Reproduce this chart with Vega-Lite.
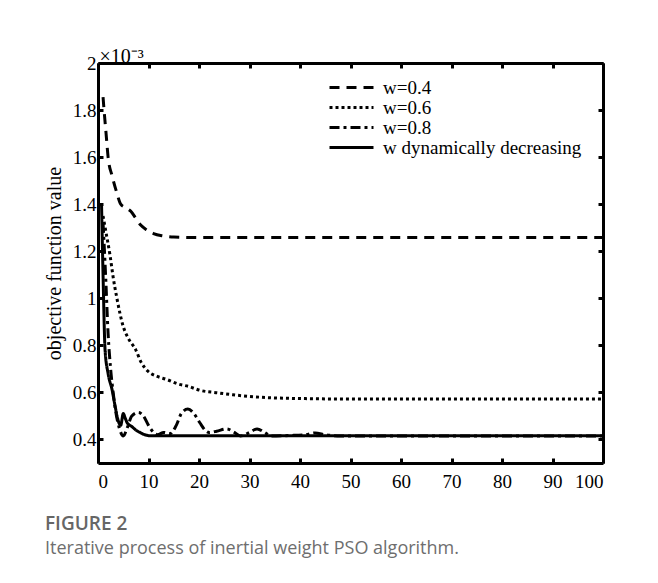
{
  "$schema": "https://vega.github.io/schema/vega-lite/v6.json",
  "width": 505,
  "height": 400,
  "autosize": {"type": "none"},
  "padding": {"left": 98, "top": 63, "right": 55, "bottom": 120},
  "background": "white",
  "title": {
    "text": "FIGURE 2",
    "subtitle": "Iterative process of inertial weight PSO algorithm.",
    "orient": "bottom",
    "anchor": "start",
    "frame": "group",
    "dx": -53,
    "offset": 24,
    "font": "Open Sans",
    "fontSize": 19,
    "fontWeight": 600,
    "color": "#666666",
    "subtitleFont": "Open Sans",
    "subtitleFontSize": 18,
    "subtitleColor": "#6e6e6e",
    "subtitlePadding": 6
  },
  "config": {
    "view": {"stroke": null},
    "axis": {
      "domainColor": "black",
      "domainWidth": 3,
      "tickColor": "black",
      "tickWidth": 3,
      "tickSize": -5,
      "grid": false,
      "labelFont": "Liberation Serif",
      "labelFontSize": 19,
      "labelColor": "black",
      "titleFont": "Liberation Serif",
      "titleFontSize": 20,
      "titleFontWeight": "normal",
      "titleColor": "black"
    }
  },
  "data": {
    "values": [
      {"series": "w=0.4", "iter": 1, "value": 1.855},
      {"series": "w=0.4", "iter": 1.2, "value": 1.8},
      {"series": "w=0.4", "iter": 1.6, "value": 1.7},
      {"series": "w=0.4", "iter": 2, "value": 1.6},
      {"series": "w=0.4", "iter": 2.8, "value": 1.52},
      {"series": "w=0.4", "iter": 3.7, "value": 1.45},
      {"series": "w=0.4", "iter": 4.5, "value": 1.4},
      {"series": "w=0.4", "iter": 5.5, "value": 1.385},
      {"series": "w=0.4", "iter": 6.5, "value": 1.37},
      {"series": "w=0.4", "iter": 7.5, "value": 1.34},
      {"series": "w=0.4", "iter": 8.5, "value": 1.31},
      {"series": "w=0.4", "iter": 9.7, "value": 1.29},
      {"series": "w=0.4", "iter": 11, "value": 1.275},
      {"series": "w=0.4", "iter": 12.9, "value": 1.265},
      {"series": "w=0.4", "iter": 15, "value": 1.26},
      {"series": "w=0.4", "iter": 20, "value": 1.258},
      {"series": "w=0.4", "iter": 100, "value": 1.258},

      {"series": "w=0.6", "iter": 1, "value": 1.35},
      {"series": "w=0.6", "iter": 1.5, "value": 1.29},
      {"series": "w=0.6", "iter": 2.4, "value": 1.18},
      {"series": "w=0.6", "iter": 3, "value": 1.09},
      {"series": "w=0.6", "iter": 3.7, "value": 1.005},
      {"series": "w=0.6", "iter": 5, "value": 0.88},
      {"series": "w=0.6", "iter": 6, "value": 0.83},
      {"series": "w=0.6", "iter": 7.5, "value": 0.78},
      {"series": "w=0.6", "iter": 8.5, "value": 0.73},
      {"series": "w=0.6", "iter": 9.9, "value": 0.69},
      {"series": "w=0.6", "iter": 11.5, "value": 0.67},
      {"series": "w=0.6", "iter": 13.6, "value": 0.655},
      {"series": "w=0.6", "iter": 16, "value": 0.635},
      {"series": "w=0.6", "iter": 18, "value": 0.625},
      {"series": "w=0.6", "iter": 20, "value": 0.61},
      {"series": "w=0.6", "iter": 23.8, "value": 0.598},
      {"series": "w=0.6", "iter": 26.7, "value": 0.59},
      {"series": "w=0.6", "iter": 30, "value": 0.583},
      {"series": "w=0.6", "iter": 33.4, "value": 0.578},
      {"series": "w=0.6", "iter": 40, "value": 0.574},
      {"series": "w=0.6", "iter": 50, "value": 0.572},
      {"series": "w=0.6", "iter": 100, "value": 0.572},

      {"series": "w=0.8", "iter": 1, "value": 1.32},
      {"series": "w=0.8", "iter": 1.5, "value": 1.1},
      {"series": "w=0.8", "iter": 2, "value": 0.85},
      {"series": "w=0.8", "iter": 2.5, "value": 0.7},
      {"series": "w=0.8", "iter": 3, "value": 0.6},
      {"series": "w=0.8", "iter": 3.5, "value": 0.52},
      {"series": "w=0.8", "iter": 4.2, "value": 0.45},
      {"series": "w=0.8", "iter": 5, "value": 0.415},
      {"series": "w=0.8", "iter": 5.8, "value": 0.45},
      {"series": "w=0.8", "iter": 6.7, "value": 0.5},
      {"series": "w=0.8", "iter": 8, "value": 0.515},
      {"series": "w=0.8", "iter": 9, "value": 0.5},
      {"series": "w=0.8", "iter": 10, "value": 0.46},
      {"series": "w=0.8", "iter": 11, "value": 0.43},
      {"series": "w=0.8", "iter": 11.8, "value": 0.42},
      {"series": "w=0.8", "iter": 13, "value": 0.43},
      {"series": "w=0.8", "iter": 14.3, "value": 0.425},
      {"series": "w=0.8", "iter": 15.5, "value": 0.46},
      {"series": "w=0.8", "iter": 16.5, "value": 0.51},
      {"series": "w=0.8", "iter": 17.8, "value": 0.53},
      {"series": "w=0.8", "iter": 19, "value": 0.51},
      {"series": "w=0.8", "iter": 20.2, "value": 0.47},
      {"series": "w=0.8", "iter": 21.2, "value": 0.44},
      {"series": "w=0.8", "iter": 22, "value": 0.43},
      {"series": "w=0.8", "iter": 23.5, "value": 0.435},
      {"series": "w=0.8", "iter": 25.5, "value": 0.445},
      {"series": "w=0.8", "iter": 27, "value": 0.43},
      {"series": "w=0.8", "iter": 28.2, "value": 0.415},
      {"series": "w=0.8", "iter": 30, "value": 0.43},
      {"series": "w=0.8", "iter": 31.5, "value": 0.445},
      {"series": "w=0.8", "iter": 33, "value": 0.43},
      {"series": "w=0.8", "iter": 34.3, "value": 0.415},
      {"series": "w=0.8", "iter": 38, "value": 0.417},
      {"series": "w=0.8", "iter": 41, "value": 0.42},
      {"series": "w=0.8", "iter": 43, "value": 0.428},
      {"series": "w=0.8", "iter": 45, "value": 0.42},
      {"series": "w=0.8", "iter": 48, "value": 0.415},
      {"series": "w=0.8", "iter": 100, "value": 0.415},

      {"series": "w dynamically decreasing", "iter": 0.7, "value": 1.4},
      {"series": "w dynamically decreasing", "iter": 1, "value": 1.1},
      {"series": "w dynamically decreasing", "iter": 1.4, "value": 0.78},
      {"series": "w dynamically decreasing", "iter": 2, "value": 0.68},
      {"series": "w dynamically decreasing", "iter": 2.8, "value": 0.61},
      {"series": "w dynamically decreasing", "iter": 3.4, "value": 0.54},
      {"series": "w dynamically decreasing", "iter": 4, "value": 0.48},
      {"series": "w dynamically decreasing", "iter": 4.5, "value": 0.46},
      {"series": "w dynamically decreasing", "iter": 5, "value": 0.51},
      {"series": "w dynamically decreasing", "iter": 5.4, "value": 0.49},
      {"series": "w dynamically decreasing", "iter": 5.8, "value": 0.47},
      {"series": "w dynamically decreasing", "iter": 6.7, "value": 0.455},
      {"series": "w dynamically decreasing", "iter": 7.5, "value": 0.44},
      {"series": "w dynamically decreasing", "iter": 8.3, "value": 0.43},
      {"series": "w dynamically decreasing", "iter": 9.3, "value": 0.42},
      {"series": "w dynamically decreasing", "iter": 10.3, "value": 0.416},
      {"series": "w dynamically decreasing", "iter": 100, "value": 0.416}
    ]
  },
  "layer": [
    {
      "mark": {"type": "line", "strokeWidth": 3, "color": "black", "interpolate": "monotone"},
      "encoding": {
        "x": {
          "field": "iter", "type": "quantitative",
          "scale": {"domain": [0, 100], "nice": false},
          "axis": {"orient": "bottom", "values": [0, 10, 20, 30, 40, 50, 60, 70, 80, 90, 100], "title": null, "labelPadding": 14}
        },
        "y": {
          "field": "value", "type": "quantitative",
          "scale": {"domain": [0.3, 2], "nice": false, "zero": false},
          "axis": {"orient": "left", "values": [0.4, 0.6, 0.8, 1, 1.2, 1.4, 1.6, 1.8, 2], "format": "~g", "title": "objective function value", "labelPadding": 7, "titlePadding": 8}
        },
        "strokeDash": {
          "field": "series", "type": "nominal",
          "scale": {
            "domain": ["w=0.4", "w=0.6", "w=0.8", "w dynamically decreasing"],
            "range": [[10, 7], [3, 3], [10, 4, 3, 4], [1, 0]]
          },
          "legend": {
            "orient": "none", "legendX": 230, "legendY": 15, "title": null,
            "labelFont": "Liberation Serif", "labelFontSize": 19, "labelColor": "black", "labelLimit": 400,
            "symbolType": "stroke", "symbolStrokeWidth": 3, "symbolStrokeColor": "black",
            "symbolSize": 1936, "labelOffset": 8, "rowPadding": 0, "padding": 0, "clipHeight": 19
          }
        }
      }
    },
    {
      "mark": {"type": "point", "opacity": 0},
      "encoding": {
        "x": {
          "field": "iter", "type": "quantitative",
          "axis": {"orient": "top", "values": [0, 10, 20, 30, 40, 50, 60, 70, 80, 90, 100], "labels": false,
            "title": "×10⁻³", "titleFontSize": 20, "titleAnchor": "start", "titleAlign": "left", "titleX": 1, "titleY": -1, "titleBaseline": "alphabetic"}
        },
        "y": {
          "field": "value", "type": "quantitative",
          "axis": {"orient": "right", "values": [0.4, 0.6, 0.8, 1, 1.2, 1.4, 1.6, 1.8, 2], "labels": false, "title": null}
        }
      }
    }
  ],
  "resolve": {"axis": {"x": "independent", "y": "independent"}}
}
